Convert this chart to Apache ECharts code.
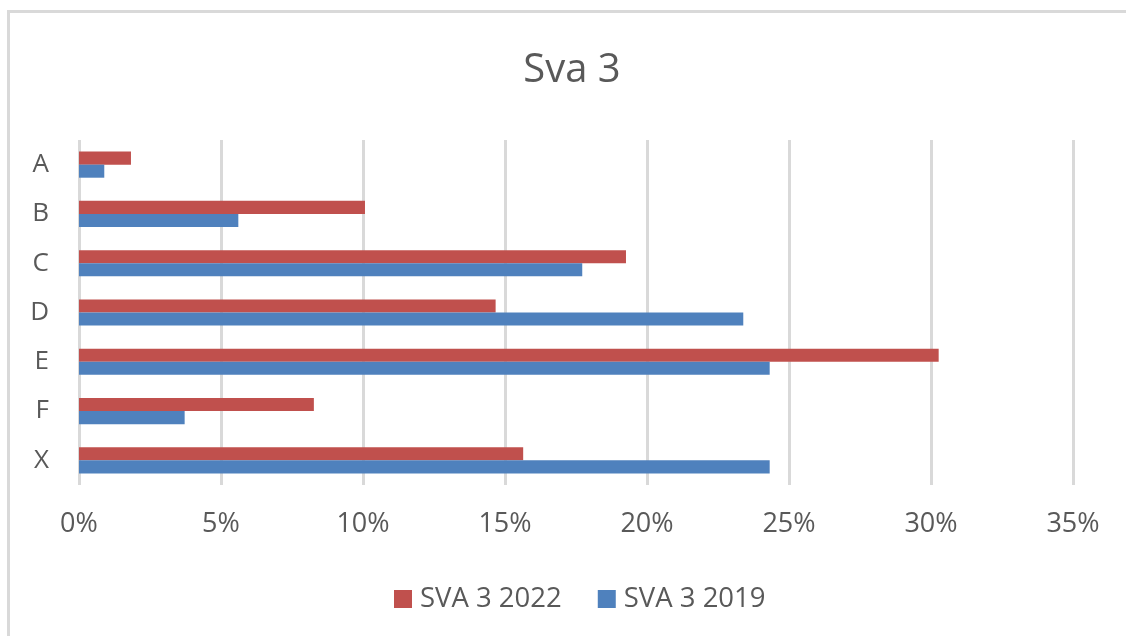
<!DOCTYPE html>
<html>
<head>
<meta charset="utf-8">
<script src="https://cdn.jsdelivr.net/npm/echarts@6/dist/echarts.min.js"></script>
<style>
html,body{margin:0;padding:0;background:#fff;}
#c{width:1126px;height:636px;}
</style>
</head>
<body>
<div id="c"></div>
<script>
const categories = ['A', 'B', 'C', 'D', 'E', 'F', 'X'];
const sva2022 = [1.83, 10.07, 19.26, 14.67, 30.27, 8.27, 15.64];
const sva2019 = [0.89, 5.61, 17.72, 23.39, 24.32, 3.72, 24.32];
const xTicks = [0, 5, 10, 15, 20, 25, 30, 35];

const FONT = '"Open Sans", "Noto Sans", sans-serif';
const chart = echarts.init(document.getElementById('c'), null, {renderer: 'canvas'});
chart.setOption({
  animation: false,
  backgroundColor: '#fff',
  graphic: [{
    type: 'rect',
    shape: {x: 8.5, y: 11.5, width: 1130, height: 640},
    style: {fill: 'none', stroke: '#d9d9d9', lineWidth: 3},
    silent: true
  }],
  title: {
    text: 'Sva 3',
    left: 567,
    textAlign: 'center',
    top: 46,
    textStyle: {fontFamily: FONT, fontSize: 40, fontWeight: 'normal', color: '#595959'}
  },
  legend: {
    data: ['SVA 3 2022', 'SVA 3 2019'],
    left: 389,
    top: 580,
    itemWidth: 18,
    itemHeight: 18,
    itemGap: 36,
    icon: 'rect',
    textStyle: {fontFamily: FONT, fontSize: 27.5, color: '#595959', padding: [0, 0, 0, 3]}
  },
  grid: {left: 79, right: 53, top: 140, bottom: 151, containLabel: false},
  xAxis: {
    type: 'value',
    min: xTicks[0],
    max: xTicks[xTicks.length - 1],
    interval: 5,
    axisLine: {show: false},
    axisTick: {show: false},
    splitLine: {lineStyle: {color: '#d9d9d9', width: 3}},
    axisLabel: {
      fontFamily: FONT, fontSize: 27, color: '#595959', margin: 26,
      formatter: v => v + '%'
    }
  },
  yAxis: {
    type: 'category',
    data: categories,
    inverse: true,
    axisLine: {show: false},
    axisTick: {show: false},
    axisLabel: {fontFamily: FONT, fontSize: 26, color: '#595959', margin: 30}
  },
  series: [
    {
      name: 'SVA 3 2022', type: 'bar', data: sva2022,
      barGap: '0%', barCategoryGap: '47%',
      itemStyle: {color: '#C0504D'}
    },
    {
      name: 'SVA 3 2019', type: 'bar', data: sva2019,
      barGap: '0%', barCategoryGap: '47%',
      itemStyle: {color: '#4F81BD'}
    }
  ]
});
</script>
</body>
</html>
